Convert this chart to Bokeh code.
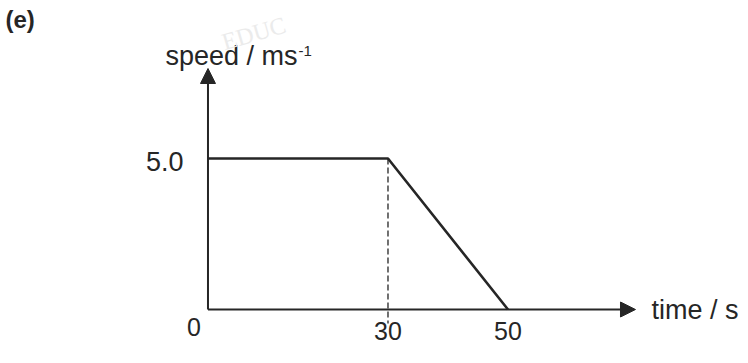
from bokeh.plotting import figure
from bokeh.models import Arrow, NormalHead, Range1d, Label
from bokeh.core.properties import value
from bokeh.embed import file_html
from bokeh.resources import INLINE

# ---- data ----
time_s = [0, 30, 50]
speed_ms = [5.0, 5.0, 0.0]
origin_label = ["0"]
x_tick_values = [30, 50]
x_tick_labels = ["30", "50"]
y_tick_values = [5.0]
y_tick_labels = ["5.0"]
x_axis_title = "time / s"
y_axis_title = "speed / ms"
y_axis_title_sup = "-1"
panel_label = "(e)"

# ---- layout / style ----
W, H = 740, 347
X_RANGE = (-34.58, 88.75)
Y_RANGE = (-1.258, 10.232)
AX_X_END = 71.25     # end of drawn time axis (arrow tip)
AX_Y_END = 7.98      # end of drawn speed axis (arrow tip)
DASH_BOTTOM = -0.46  # dashed guide extends a little below the axis
INK = "#262626"
FONT = value("Liberation Sans")

p = figure(width=W, height=H, output_backend="svg", toolbar_location=None,
           x_range=Range1d(*X_RANGE), y_range=Range1d(*Y_RANGE),
           x_axis_type=None, y_axis_type=None,
           min_border=0, min_border_left=0, min_border_right=0,
           min_border_top=0, min_border_bottom=0,
           outline_line_color=None, background_fill_color="white",
           border_fill_color="white")
p.grid.visible = False

# faint watermark
p.add_layout(Label(x=222, y=H - 42, x_units="screen", y_units="screen",
                   text="EDUC", text_font="Liberation Serif",
                   text_font_size="24px", text_color="#ebebeb", angle=0.28,
                   text_baseline="alphabetic"))

# axes with arrow heads
p.add_layout(Arrow(end=NormalHead(size=15, fill_color=INK, line_color=INK),
                   x_start=0, y_start=0, x_end=AX_X_END, y_end=0,
                   line_width=2, line_color=INK))
p.add_layout(Arrow(end=NormalHead(size=15, fill_color=INK, line_color=INK),
                   x_start=0, y_start=0, x_end=0, y_end=AX_Y_END,
                   line_width=2, line_color=INK))

# dashed guide at t = 30
p.segment(x0=[time_s[1]], y0=[speed_ms[1]], x1=[time_s[1]], y1=[DASH_BOTTOM],
          line_width=1.4, line_color="#333333", line_dash="6 3")

# speed-time graph
p.line(time_s, speed_ms, line_width=2.6, line_color=INK)

# tick labels
p.text(x=[0], y=[0], text=origin_label, text_font=FONT, text_font_size="25px",
       text_color=INK, text_align="center", text_baseline="middle",
       x_offset=-14, y_offset=17)
p.text(x=x_tick_values, y=[0] * len(x_tick_values), text=x_tick_labels,
       text_font=FONT, text_font_size="25px", text_color=INK,
       text_align="center", text_baseline="middle", x_offset=0, y_offset=21)
p.text(x=[0] * len(y_tick_values), y=y_tick_values, text=y_tick_labels,
       text_font=FONT, text_font_size="27px", text_color=INK,
       text_align="right", text_baseline="middle", x_offset=-24.5, y_offset=3)

# axis titles
p.text(x=[AX_X_END], y=[0], text=[x_axis_title], text_font=FONT,
       text_font_size="27px", text_color=INK, text_align="left",
       text_baseline="middle", x_offset=16, y_offset=0)
p.text(x=[0], y=[AX_Y_END], text=[y_axis_title], text_font=FONT,
       text_font_size="27px", text_color=INK, text_align="left",
       text_baseline="alphabetic", x_offset=-42.5, y_offset=-13)
p.text(x=[0], y=[AX_Y_END], text=[y_axis_title_sup], text_font=FONT,
       text_font_size="15px", text_color=INK, text_align="left",
       text_baseline="alphabetic", x_offset=-42.5 + 133, y_offset=-18)

# panel label
p.add_layout(Label(x=5, y=H - 32, x_units="screen", y_units="screen",
                   text=panel_label, text_font="Liberation Sans",
                   text_font_size="24px", text_color=INK,
                   text_font_style="bold"))

open("out.html", "w").write(file_html(p, INLINE))
